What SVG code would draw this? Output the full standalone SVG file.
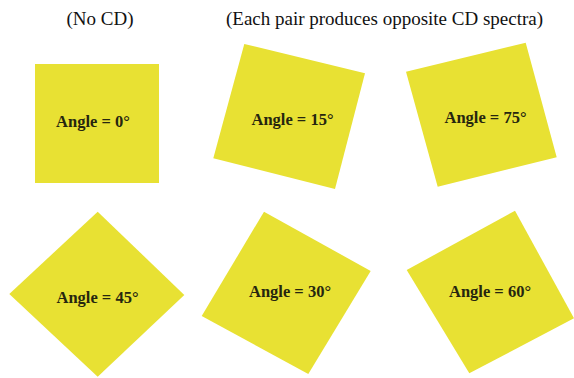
<svg xmlns="http://www.w3.org/2000/svg" width="574" height="378" viewBox="0 0 574 378">
<style>
.sq{fill:#e8e133;stroke:none}
.lbl{font-family:"Liberation Serif","Times New Roman",serif;font-size:16.5px;font-weight:bold;fill:#26260f;text-anchor:middle}
.title{font-family:"Liberation Serif","Times New Roman",serif;font-size:19px;fill:#111;text-anchor:middle}
</style>
<rect width="574" height="378" fill="#ffffff"/>
<g id="titles">
<text class="title" x="100" y="25">(No CD)</text>
<text class="title" x="384.5" y="25">(Each pair produces opposite CD spectra)</text>
</g>
<g id="angle0">
<polygon class="sq" points="35,64 159,64 159,183 35,183"/>
<text class="lbl" x="93" y="127">Angle = 0°</text>
</g>
<g id="angle15">
<polygon class="sq" points="244.3,44 365,73.3 335,189 213.3,158.3"/>
<text class="lbl" x="292.5" y="125">Angle = 15°</text>
</g>
<g id="angle75">
<polygon class="sq" points="406,71.7 525.7,42.7 556.7,157.3 437.7,186.7"/>
<text class="lbl" x="485.5" y="122.7">Angle = 75°</text>
</g>
<g id="angle45">
<polygon class="sq" points="97.7,211.7 184.3,295 97.7,376.7 9.3,294"/>
<text class="lbl" x="97.5" y="302.7">Angle = 45°</text>
</g>
<g id="angle30">
<polygon class="sq" points="264,211.7 370.7,271 308.3,374 201.7,316"/>
<text class="lbl" x="290" y="296.7">Angle = 30°</text>
</g>
<g id="angle60">
<polygon class="sq" points="515,210.7 574,318.3 469.3,373.3 406.7,270"/>
<text class="lbl" x="490" y="296.7">Angle = 60°</text>
</g>
</svg>
